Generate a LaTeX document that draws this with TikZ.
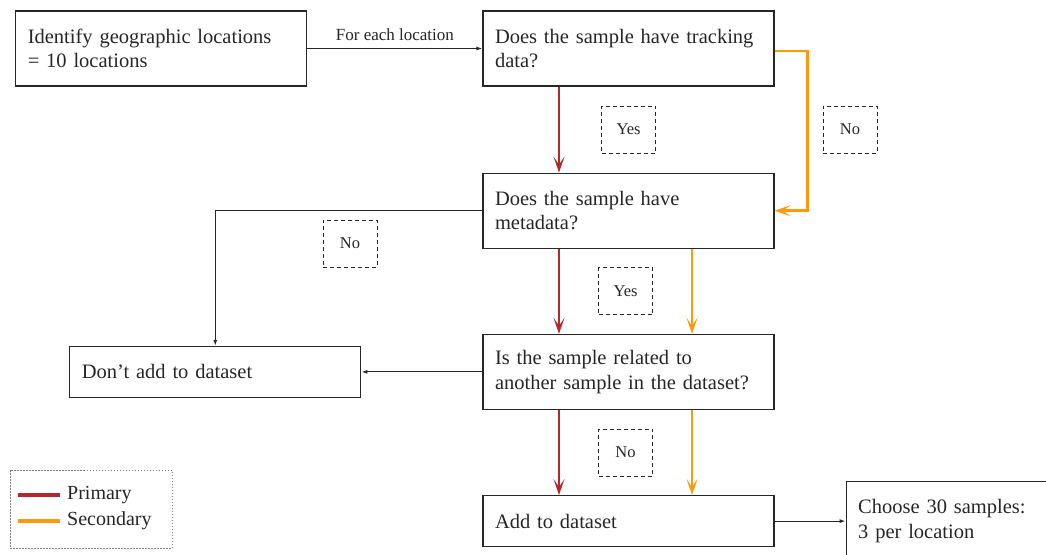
\documentclass[tikz,border=0pt]{standalone}
\usepackage{fontspec}
\setmainfont{Liberation Serif}
\usepackage{tikz}
\usetikzlibrary{positioning,calc,arrows.meta}

\definecolor{primred}{HTML}{B3282D}
\definecolor{secorange}{HTML}{FF9A0D}
\definecolor{inkgray}{HTML}{262626}

\begin{document}
\begin{tikzpicture}[
    x=1pt, y=-1pt,
    node distance=85pt and 175pt,
    box/.style={rectangle, draw=inkgray, line width=1.2pt, minimum width=291pt, text width=267pt, inner xsep=12pt, minimum height=75pt, align=left, text=inkgray, font=\fontsize{20.5}{24.5}\selectfont},
    flatbox/.style={box, minimum height=51pt},
    tagbox/.style={rectangle, draw=inkgray, line width=0.9pt, dash pattern=on 4pt off 3pt, minimum width=54pt, minimum height=47pt, text=inkgray, font=\fontsize{16.5}{19}\selectfont},
    arrow/.style={-{Latex[length=6pt, width=4pt]}, line width=1.1pt, draw=inkgray},
    primary/.style={-{Stealth[length=16pt, width=11pt, inset=8pt]}, line width=2.5pt, draw=primred},
    secondary/.style={-{Stealth[length=16pt, width=11pt, inset=8pt]}, line width=2.5pt, draw=secorange},
    legtext/.style={anchor=west, inner sep=0pt, text=inkgray, font=\fontsize{20}{24}\selectfont}
]
\useasboundingbox (0,0) rectangle (1046,554);

% Column of questions
\node[box] (track) at (628.5,48.5) {Does the sample have tracking\\data?};
\node[box, left=of track] (source) {Identify geographic locations\\= 10 locations};
\node[box, below=86pt of track] (meta) {Does the sample have\\metadata?};
\node[box, below=of meta] (related) {Is the sample related to\\another sample in the dataset?};
\node[flatbox, below=of related] (add) {Add to dataset};

% Side results
\node[flatbox, left=121pt of related] (drop) {Don't add to dataset};
\node[box, right=71pt of add, minimum height=80pt, minimum width=230pt, text width=206pt] (choose) {Choose 30 samples:\\3 per location};

% Answer tags
\node[tagbox] (yesA) at ($(track.south)!0.5!(meta.north)$) {Yes};
\node[tagbox] (noA) at (850,129.5) {No};
\node[tagbox] (noB) at (350,243.5) {No};
\node[tagbox] (yesB) at ($(meta.south)!0.5!(related.north)+(-3,0)$) {Yes};
\node[tagbox] (noC) at ($(related.south)!0.5!(add.north)+(-3,0)$) {No};

% Black connectors
\draw[arrow] (source) -- node[above=4pt, text=inkgray, font=\fontsize{17}{20}\selectfont] {For each location} (track);
\draw[arrow] (meta.west) -| (drop.north);
\draw[arrow] (related.west) -- (drop.east);
\draw[arrow] (add.east) -- (choose.west);

% Primary path
\draw[primary] ([xshift=-69.5pt]track.south) -- ([xshift=-69.5pt]meta.north);
\draw[primary] ([xshift=-69.5pt]meta.south) -- ([xshift=-69.5pt]related.north);
\draw[primary] ([xshift=-69.5pt]related.south) -- ([xshift=-69.5pt]add.north);

% Secondary path
\draw[secondary] ([yshift=-2.5pt]track.east) -- ++(33,0) |- (meta.east);
\draw[secondary] ([xshift=63.5pt]meta.south) -- ([xshift=63.5pt]related.north);
\draw[secondary] ([xshift=63.5pt]related.south) -- ([xshift=63.5pt]add.north);

% Legend
\draw[gray, line width=0.8pt, dash pattern=on 1.5pt off 1.5pt] (10,470) rectangle (172,548);
\node[legtext] (lprim) at (67,495) {Primary};
\node[legtext] (lsec) at (67,521) {Secondary};
\draw[primred, line width=3.5pt] ([xshift=-7pt]lprim.west) -- ++(-42,0);
\draw[secorange, line width=3.5pt] ([xshift=-7pt]lsec.west) -- ++(-42,0);

\end{tikzpicture}
\end{document}
